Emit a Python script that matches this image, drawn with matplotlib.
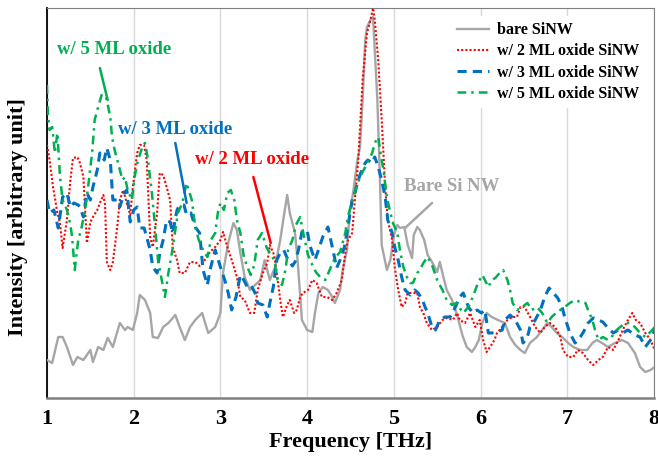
import matplotlib
matplotlib.use("Agg")
import matplotlib.pyplot as plt

# ---------------- data ----------------
freq_bare = [1.00, 1.06, 1.13, 1.18, 1.23, 1.30, 1.35, 1.42, 1.50, 1.53, 1.59, 1.65, 1.70, 1.76,
             1.84, 1.90, 1.93, 1.99, 2.04, 2.07, 2.13, 2.19, 2.22, 2.28, 2.34, 2.40, 2.48, 2.53,
             2.59, 2.65, 2.71, 2.79, 2.82, 2.86, 2.94, 3.00, 3.03, 3.09, 3.15, 3.19, 3.23, 3.28,
             3.34, 3.40, 3.46, 3.51, 3.57, 3.63, 3.69, 3.73, 3.77, 3.80, 3.86, 3.89, 3.94, 4.00,
             4.06, 4.09, 4.13, 4.18, 4.24, 4.29, 4.32, 4.38, 4.41, 4.46, 4.49, 4.53, 4.58, 4.61,
             4.64, 4.67, 4.69, 4.73, 4.76, 4.81, 4.84, 4.86, 4.92, 4.96, 5.00, 5.04, 5.07, 5.12,
             5.16, 5.21, 5.23, 5.27, 5.30, 5.35, 5.39, 5.44, 5.50, 5.53, 5.58, 5.61, 5.67, 5.73,
             5.79, 5.84, 5.90, 5.94, 5.98, 6.02, 6.07, 6.13, 6.20, 6.28, 6.34, 6.40, 6.46, 6.51,
             6.57, 6.65, 6.71, 6.77, 6.82, 6.88, 6.94, 7.01, 7.07, 7.15, 7.23, 7.29, 7.34, 7.40,
             7.47, 7.55, 7.63, 7.70, 7.78, 7.84, 7.90, 7.96, 8.01]
int_bare = [38, 35, 61, 61, 51, 33, 41, 38, 48, 36, 51, 48, 60, 51,
            75, 68, 71, 68, 85, 103, 98, 85, 61, 60, 71, 75, 83, 71,
            58, 71, 78, 85, 76, 65, 71, 85, 125, 155, 175, 168, 145, 121,
            108, 113, 118, 138, 118, 131, 158, 181, 203, 185, 165, 138, 78, 68,
            66, 85, 105, 111, 108, 101, 95, 108, 128, 148, 185, 205, 238, 251,
            298, 358, 371, 378, 381, 298, 218, 153, 128, 138, 163, 173, 170, 171,
            153, 140, 163, 171, 168, 158, 143, 136, 126, 136, 118, 108, 98, 83,
            63, 51, 46, 51, 58, 75, 85, 81, 78, 75, 61, 53, 48, 45,
            55, 61, 68, 75, 71, 65, 61, 55, 51, 48, 48, 55, 58, 55,
            51, 55, 58, 55, 45, 31, 26, 28, 31]

freq_2ml = [1.00, 1.03, 1.07, 1.12, 1.15, 1.18, 1.23, 1.27, 1.30, 1.35, 1.38, 1.42, 1.46, 1.50,
            1.53, 1.58, 1.61, 1.65, 1.67, 1.69, 1.73, 1.76, 1.81, 1.84, 1.88, 1.92, 1.96, 1.99,
            2.04, 2.07, 2.12, 2.15, 2.19, 2.22, 2.27, 2.30, 2.34, 2.38, 2.42, 2.45, 2.50, 2.53,
            2.59, 2.65, 2.71, 2.76, 2.82, 2.88, 2.94, 3.00, 3.03, 3.08, 3.13, 3.19, 3.23, 3.28,
            3.34, 3.39, 3.43, 3.49, 3.54, 3.57, 3.62, 3.65, 3.69, 3.72, 3.77, 3.80, 3.85, 3.88,
            3.92, 3.95, 4.01, 4.06, 4.11, 4.17, 4.23, 4.29, 4.34, 4.40, 4.44, 4.47, 4.52, 4.55,
            4.59, 4.64, 4.69, 4.73, 4.76, 4.78, 4.82, 4.86, 4.90, 4.93, 4.98, 5.01, 5.05, 5.09,
            5.13, 5.16, 5.22, 5.27, 5.30, 5.34, 5.38, 5.44, 5.50, 5.56, 5.61, 5.68, 5.73, 5.76,
            5.82, 5.88, 5.94, 5.99, 6.03, 6.07, 6.11, 6.16, 6.19, 6.25, 6.31, 6.36, 6.42, 6.46,
            6.51, 6.57, 6.63, 6.69, 6.74, 6.80, 6.86, 6.92, 6.95, 7.01, 7.07, 7.12, 7.18, 7.24,
            7.30, 7.36, 7.41, 7.47, 7.53, 7.59, 7.64, 7.70, 7.75, 7.79, 7.84, 7.90, 7.96, 8.01]
int_2ml = [253, 238, 211, 185, 175, 150, 178, 218, 240, 241, 235, 221, 155, 176,
           181, 188, 195, 203, 193, 136, 128, 136, 171, 198, 208, 195, 183, 211,
           245, 253, 253, 238, 161, 151, 185, 225, 223, 211, 198, 151, 138, 125,
           125, 136, 136, 132, 138, 146, 151, 158, 166, 151, 138, 121, 101, 98,
           85, 85, 108, 125, 135, 153, 143, 125, 98, 81, 93, 98, 85, 88,
           101, 105, 108, 118, 115, 101, 101, 98, 105, 118, 145, 158, 165, 198,
           238, 318, 365, 378, 390, 378, 338, 278, 211, 178, 158, 131, 108, 91,
           95, 105, 105, 105, 91, 85, 75, 68, 71, 78, 80, 78, 85, 78,
           75, 85, 71, 78, 58, 46, 51, 58, 65, 71, 78, 81, 81, 91,
           91, 81, 71, 65, 71, 75, 71, 61, 48, 41, 41, 48, 45, 38,
           33, 38, 41, 51, 48, 58, 68, 78, 85, 78, 75, 65, 58, 48]

freq_3ml = [1.00, 1.03, 1.08, 1.13, 1.16, 1.18, 1.23, 1.27, 1.31, 1.36, 1.38, 1.42, 1.46, 1.50,
            1.53, 1.58, 1.61, 1.66, 1.69, 1.73, 1.76, 1.81, 1.84, 1.89, 1.92, 1.96, 2.00, 2.04,
            2.07, 2.12, 2.15, 2.19, 2.22, 2.27, 2.30, 2.34, 2.38, 2.42, 2.45, 2.50, 2.53, 2.58,
            2.61, 2.66, 2.71, 2.76, 2.80, 2.85, 2.88, 2.94, 3.00, 3.05, 3.09, 3.13, 3.18, 3.23,
            3.27, 3.31, 3.35, 3.40, 3.43, 3.49, 3.54, 3.57, 3.61, 3.65, 3.69, 3.73, 3.78, 3.83,
            3.86, 3.90, 3.94, 4.00, 4.03, 4.09, 4.13, 4.18, 4.24, 4.28, 4.31, 4.34, 4.38, 4.43,
            4.47, 4.52, 4.55, 4.59, 4.63, 4.67, 4.70, 4.75, 4.78, 4.82, 4.86, 4.90, 4.93, 4.98,
            5.01, 5.05, 5.09, 5.13, 5.19, 5.24, 5.28, 5.33, 5.36, 5.39, 5.44, 5.48, 5.53, 5.59,
            5.65, 5.71, 5.76, 5.80, 5.86, 5.91, 5.96, 6.01, 6.05, 6.09, 6.13, 6.19, 6.25, 6.28,
            6.34, 6.40, 6.46, 6.49, 6.54, 6.57, 6.63, 6.69, 6.74, 6.79, 6.84, 6.89, 6.94, 6.97,
            7.03, 7.09, 7.15, 7.18, 7.24, 7.30, 7.36, 7.41, 7.47, 7.53, 7.59, 7.64, 7.70, 7.78,
            7.84, 7.90, 7.96, 8.01]
int_3ml = [198, 185, 188, 170, 188, 201, 205, 191, 195, 193, 191, 181, 205, 198,
           211, 228, 245, 238, 250, 238, 198, 198, 191, 205, 208, 176, 188, 191,
           170, 170, 161, 148, 131, 125, 145, 158, 178, 176, 165, 188, 193, 193,
           183, 185, 171, 165, 128, 113, 128, 148, 131, 118, 105, 88, 101, 123,
           118, 111, 113, 105, 95, 93, 81, 95, 111, 138, 145, 148, 138, 132,
           136, 148, 166, 168, 153, 138, 148, 161, 171, 155, 143, 130, 138, 151,
           171, 198, 205, 218, 228, 235, 238, 235, 241, 231, 218, 201, 178, 165,
           151, 138, 121, 108, 103, 108, 105, 98, 91, 85, 71, 68, 78, 81,
           81, 91, 101, 105, 91, 85, 88, 85, 88, 65, 65, 66, 68, 78,
           83, 78, 68, 55, 61, 71, 78, 88, 101, 110, 105, 100, 91, 81,
           65, 55, 61, 65, 75, 80, 78, 76, 70, 65, 68, 65, 68, 63,
           61, 51, 58, 68]

freq_5ml = [1.00, 1.01, 1.03, 1.06, 1.08, 1.09, 1.12, 1.15, 1.18, 1.23, 1.27, 1.29, 1.32, 1.36,
            1.40, 1.44, 1.47, 1.52, 1.55, 1.59, 1.63, 1.68, 1.73, 1.75, 1.78, 1.82, 1.87, 1.90,
            1.93, 1.98, 2.01, 2.05, 2.10, 2.13, 2.16, 2.21, 2.25, 2.28, 2.33, 2.36, 2.40, 2.44,
            2.48, 2.51, 2.56, 2.61, 2.67, 2.71, 2.75, 2.80, 2.85, 2.89, 2.94, 2.97, 3.00, 3.04,
            3.08, 3.12, 3.16, 3.19, 3.23, 3.27, 3.31, 3.35, 3.39, 3.43, 3.48, 3.53, 3.57, 3.62,
            3.66, 3.71, 3.75, 3.78, 3.83, 3.87, 3.92, 3.96, 4.01, 4.06, 4.10, 4.15, 4.21, 4.26,
            4.32, 4.38, 4.44, 4.47, 4.52, 4.56, 4.61, 4.67, 4.71, 4.75, 4.78, 4.82, 4.85, 4.88,
            4.92, 4.96, 4.99, 5.04, 5.07, 5.11, 5.15, 5.19, 5.22, 5.27, 5.30, 5.34, 5.39, 5.44,
            5.50, 5.56, 5.61, 5.67, 5.72, 5.76, 5.80, 5.86, 5.91, 5.97, 6.02, 6.05, 6.09, 6.13,
            6.17, 6.22, 6.26, 6.31, 6.34, 6.37, 6.42, 6.48, 6.54, 6.59, 6.65, 6.71, 6.77, 6.82,
            6.87, 6.92, 6.97, 7.03, 7.09, 7.15, 7.21, 7.24, 7.29, 7.32, 7.36, 7.41, 7.47, 7.51,
            7.57, 7.61, 7.67, 7.72, 7.78, 7.84, 7.90, 7.98, 8.01]
int_5ml = [313, 285, 268, 271, 255, 245, 265, 221, 198, 188, 173, 161, 128, 158,
           171, 188, 208, 245, 278, 291, 303, 302, 281, 261, 248, 235, 218, 221,
           208, 198, 221, 238, 251, 255, 241, 205, 168, 138, 115, 101, 125, 145,
           168, 185, 195, 215, 198, 171, 158, 148, 141, 158, 165, 185, 195, 188,
           205, 208, 198, 178, 165, 141, 131, 123, 133, 158, 165, 151, 145, 138,
           118, 113, 128, 148, 158, 173, 181, 163, 143, 133, 126, 121, 118, 128,
           140, 146, 165, 181, 198, 208, 221, 231, 238, 245, 255, 261, 243, 228,
           201, 185, 175, 165, 148, 131, 121, 115, 115, 125, 128, 135, 141, 133,
           118, 108, 98, 93, 95, 90, 85, 91, 101, 115, 123, 118, 111, 118,
           120, 125, 128, 118, 108, 95, 88, 91, 95, 88, 91, 85, 75, 81,
           85, 88, 91, 95, 98, 96, 95, 88, 78, 68, 58, 61, 58, 61,
           68, 71, 75, 75, 71, 65, 61, 68, 71]

legend_labels = ["bare SiNW", "w/ 2 ML oxide SiNW", "w/ 3 ML oxide SiNW", "w/ 5 ML oxide SiNW"]
x_ticks = [1, 2, 3, 4, 5, 6, 7, 8]

# ---------------- styling ----------------
FONT = "Liberation Serif"
c_gray, c_red, c_blue, c_green = "#a6a6a6", "#ff0000", "#0070c0", "#00b050"

fig = plt.figure(figsize=(6.58, 4.59), dpi=100)
ax = fig.add_axes([0.0714, 0.1329, 0.9225, 0.8497])

ax.plot(freq_bare, int_bare, color=c_gray, lw=1.7, label=legend_labels[0], zorder=3)
ax.plot(freq_2ml, int_2ml, color=c_red, lw=1.5, linestyle=(0, (1, 1)), label=legend_labels[1], zorder=4)
ax.plot(freq_3ml, int_3ml, color=c_blue, lw=2.2, linestyle=(0, (3, 2)), label=legend_labels[2], zorder=5)
ax.plot(freq_5ml, int_5ml, color=c_green, lw=1.8, linestyle=(0, (3.5, 2, 1, 2)), label=legend_labels[3], zorder=6)

ax.set_xlim(1, 8)
ax.set_ylim(0, 390)
ax.set_xticks(x_ticks)
ax.set_xticklabels([str(t) for t in x_ticks], fontsize=16, fontweight="bold", family=FONT)
ax.set_yticks([])
ax.tick_params(axis="x", length=0, pad=8)
ax.grid(axis="x", color="#d9d9d9", lw=1, zorder=0)
ax.set_axisbelow(True)

for side in ["top", "right"]:
    ax.spines[side].set_color("#808080")
    ax.spines[side].set_linewidth(0.8)
ax.spines["bottom"].set_color("#808080")
ax.spines["bottom"].set_linewidth(1.8)
ax.spines["left"].set_color("black")
ax.spines["left"].set_linewidth(1.3)

ax.set_xlabel("Frequency [THz]", fontsize=16, fontweight="bold", family=FONT, labelpad=2)
ax.set_ylabel("Intensity [arbitrary unit]", fontsize=16, fontweight="bold", family=FONT)
ax.yaxis.set_label_coords(-0.031, 0.465)

leg = ax.legend(loc="upper right", bbox_to_anchor=(1.0, 1.0), frameon=True, facecolor="white",
                edgecolor="none", framealpha=1, handlelength=2.0, handletextpad=0.5,
                labelspacing=0.32, borderpad=0.4,
                prop={"family": FONT, "weight": "bold", "size": 11.5})
leg.set_zorder(10)

# annotations: (text, text position, line start, line end, colour)
annotations = [
    ("w/ 5 ML oxide", (1.78, 348), (1.61, 330), (1.70, 298), c_green),
    ("w/ 3 ML oxide", (2.48, 268), (2.48, 255), (2.61, 195), c_blue),
    ("w/ 2 ML oxide", (3.36, 238), (3.38, 221), (3.58, 155), c_red),
    ("Bare Si NW", (5.67, 211), (5.44, 195), (5.13, 170), c_gray),
]
for txt, tpos, p0, p1, col in annotations:
    ax.text(tpos[0], tpos[1], txt, color=col, fontsize=13.5, fontweight="bold", family=FONT,
            ha="center", va="center", zorder=8)
    ax.annotate("", xy=p1, xytext=p0,
                arrowprops=dict(arrowstyle="-", color=col, lw=1.8, shrinkA=0, shrinkB=0), zorder=8)

fig.savefig("out.png", dpi=100)
